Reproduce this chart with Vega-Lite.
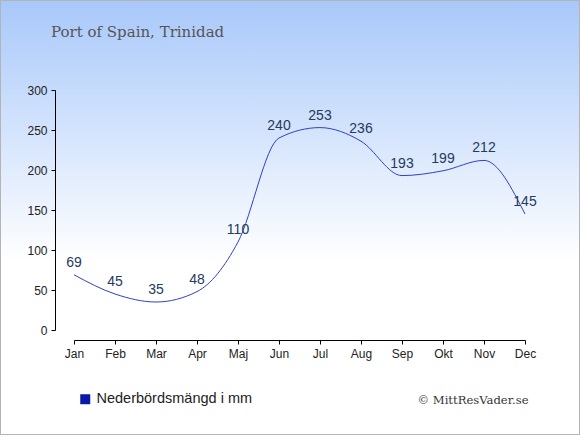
{
  "$schema": "https://vega.github.io/schema/vega-lite/v6.json",
  "width": 580,
  "height": 435,
  "autosize": "none",
  "padding": 0,
  "background": "#ffffff",
  "title": {
    "text": "Port of Spain, Trinidad",
    "anchor": "start",
    "frame": "group",
    "dx": 51,
    "offset": -52,
    "baseline": "alphabetic",
    "font": "DejaVu Serif",
    "fontSize": 15,
    "fontWeight": "normal",
    "color": "#555555"
  },
  "data": {
    "values": [
      {"month": "Jan", "mm": 69},
      {"month": "Feb", "mm": 45},
      {"month": "Mar", "mm": 35},
      {"month": "Apr", "mm": 48},
      {"month": "Maj", "mm": 110},
      {"month": "Jun", "mm": 240},
      {"month": "Jul", "mm": 253},
      {"month": "Aug", "mm": 236},
      {"month": "Sep", "mm": 193},
      {"month": "Okt", "mm": 199},
      {"month": "Nov", "mm": 212},
      {"month": "Dec", "mm": 145}
    ]
  },
  "encoding": {
    "x": {
      "field": "month",
      "type": "ordinal",
      "sort": null,
      "scale": {"type": "point", "padding": 0, "range": [74, 525]},
      "axis": {
        "orient": "bottom",
        "offset": -95,
        "labelAngle": 0,
        "title": "© MittResVader.se",
        "titleFont": "DejaVu Serif",
        "titleFontSize": 11.6,
        "titleFontWeight": "normal",
        "titleColor": "#333333",
        "titleAlign": "right",
        "titleAnchor": null,
        "titleBaseline": "alphabetic",
        "titleX": 528,
        "titleY": 63
      }
    },
    "y": {
      "field": "mm",
      "type": "quantitative",
      "scale": {"domain": [0, 300], "range": [330, 90], "nice": false},
      "axis": {
        "orient": "left",
        "offset": -55,
        "values": [0, 50, 100, 150, 200, 250, 300],
        "title": null,
        "grid": false
      }
    }
  },
  "layer": [
    {
      "mark": {"type": "line", "interpolate": "monotone", "strokeWidth": 1},
      "encoding": {
        "color": {
          "datum": "Nederbördsmängd i mm",
          "scale": {"range": ["#3040c8"]},
          "legend": {
            "title": null,
            "orient": "none",
            "legendX": 78,
            "legendY": 392,
            "symbolType": "square",
            "symbolSize": 100,
            "labelFontSize": 14.5,
            "labelColor": "#222222",
            "labelFont": "Liberation Sans",
            "padding": 0,
            "encode": {
              "symbols": {
                "update": {
                  "fill": {"value": "#0a1aa6"},
                  "stroke": {"value": "#0a1aa6"},
                  "strokeWidth": {"value": 0}
                }
              }
            }
          }
        }
      }
    },
    {
      "mark": {
        "type": "text",
        "dy": -8,
        "baseline": "alphabetic",
        "font": "Liberation Sans",
        "fontSize": 14,
        "color": "#243a5e"
      },
      "encoding": {"text": {"field": "mm", "type": "quantitative"}}
    }
  ],
  "config": {
    "view": {
      "fill": {
        "gradient": "linear",
        "x1": 0, "y1": 0, "x2": 0, "y2": 1,
        "stops": [
          {"offset": 0, "color": "#a8c8fa"},
          {"offset": 0.6, "color": "#ffffff"}
        ]
      },
      "stroke": "#b4b4b4",
      "strokeWidth": 2
    },
    "axis": {
      "domainColor": "#000000",
      "tickColor": "#000000",
      "tickSize": 4,
      "labelFont": "Liberation Sans",
      "labelFontSize": 12,
      "labelColor": "#222222",
      "labelPadding": 4
    }
  }
}
